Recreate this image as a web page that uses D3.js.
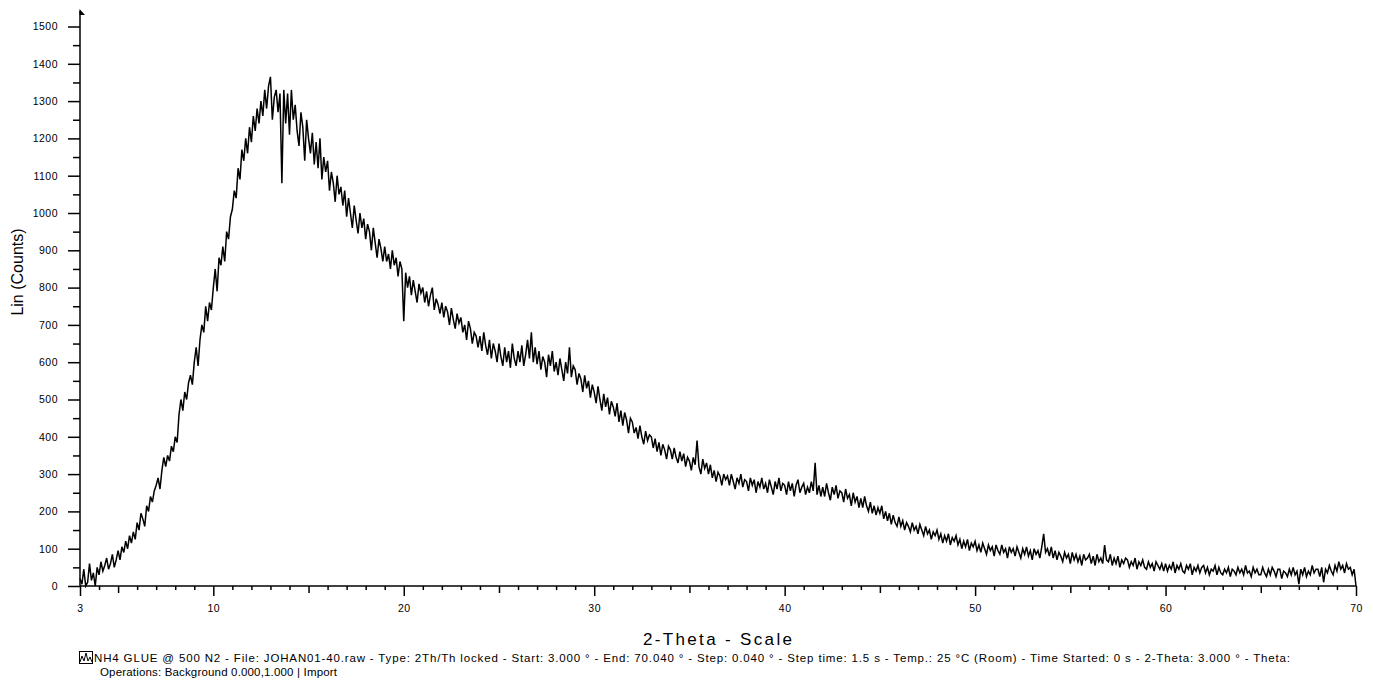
<!DOCTYPE html>
<html>
<head>
<meta charset="UTF-8">
<title>2-Theta scan</title>
<script src="https://cdnjs.cloudflare.com/ajax/libs/d3/7.8.5/d3.min.js"></script>
<style>
  body { margin: 0; background: #fff; }
  svg text { font-family: "Liberation Sans", Arial, sans-serif; fill: #000; }
</style>
</head>
<body>
<script>
// scan settings (every 0.1 deg)
var thetaStart = 3;
var thetaStep = 0.1;

// counts, one row per degree (3.0 ... 3.9, 4.0 ... 4.9, ...), last value at 70.0
var counts = [
  20, 5, 45, 0, 10, 60, 15, 35, 0, 50,
  30, 65, 40, 55, 75, 45, 60, 85, 50, 70,
  95, 70, 105, 90, 120, 100, 135, 115, 145, 125,
  170, 150, 195, 180, 160, 215, 200, 240, 225, 255,
  270, 290, 260, 310, 345, 320, 350, 335, 375, 360,
  400, 385, 460, 500, 470, 520, 500, 545, 565, 540,
  600, 640, 590, 660, 700, 680, 750, 710, 760, 740,
  800, 850, 790, 880, 860, 910, 870, 950, 930, 990,
  1010, 1060, 1040, 1120, 1090, 1170, 1140, 1200, 1160, 1230,
  1190, 1260, 1220, 1280, 1240, 1300, 1260, 1330, 1280, 1340,
  1365, 1250, 1310, 1330, 1270, 1320, 1080, 1330, 1240, 1320,
  1210, 1330, 1250, 1290, 1220, 1180, 1270, 1230, 1140, 1250,
  1200, 1160, 1215, 1130, 1190, 1120, 1200, 1090, 1150, 1110,
  1140, 1060, 1110, 1080, 1030, 1100, 1050, 1070, 1020, 1060,
  990, 1040, 1000, 960, 1020, 980, 945, 1000, 960, 985,
  930, 970, 950, 900, 960, 920, 880, 930, 905, 870,
  910, 870, 890, 850, 900, 860, 880, 830, 870, 850,
  710, 840, 800, 830, 780, 820, 790, 760, 810, 785,
  800, 760, 790, 750, 780, 800, 740, 770, 755, 730,
  760, 720, 750, 735, 700, 745, 715, 690, 730, 705,
  720, 680, 700, 660, 710, 690, 650, 680, 670, 640,
  670, 630, 680, 645, 620, 660, 610, 650, 630, 600,
  650, 615, 590, 640, 600, 630, 585, 650, 610, 590,
  630, 600, 645, 590, 620, 660, 610, 680, 600, 640,
  595, 630, 580, 615, 600, 560, 620, 590, 630, 575,
  600, 565, 610, 580, 550, 600, 570, 640, 560, 590,
  580, 540, 570, 555, 520, 565, 530, 550, 505, 540,
  520, 490, 535, 500, 470, 515, 480, 505, 460, 495,
  480, 455, 490, 440, 470, 430, 465, 445, 410, 450,
  440, 410, 425, 395, 430, 400, 380, 415, 390, 405,
  400, 370, 395, 360, 385, 350, 380, 365, 340, 375,
  365, 340, 370, 345, 330, 360, 335, 355, 320, 345,
  335, 310, 345, 325, 390, 320, 300, 340, 315, 330,
  300, 325, 290, 310, 280, 305, 295, 270, 300, 285,
  295, 270, 300, 280, 260, 290, 275, 300, 265, 285,
  280, 255, 290, 270, 285, 250, 280, 265, 290, 260,
  275, 250, 285, 265, 245, 280, 260, 290, 255, 275,
  270, 245, 280, 255, 275, 240, 270, 285, 250, 265,
  275, 245, 265, 250, 280, 255, 330, 245, 270, 240,
  265, 240, 275, 250, 230, 265, 245, 270, 235, 255,
  250, 225, 260, 235, 245, 215, 250, 225, 240, 210,
  235, 210, 240, 215, 200, 225, 195, 215, 190, 210,
  195, 215, 180, 200, 175, 195, 165, 190, 170, 160,
  185, 160, 175, 150, 170, 160, 145, 170, 150, 160,
  140, 165, 150, 135, 160, 140, 150, 125, 145, 135,
  150, 125, 140, 115, 135, 120, 140, 110, 130, 120,
  135, 110, 125, 100, 120, 105, 125, 95, 115, 105,
  120, 95, 110, 90, 115, 100, 85, 110, 95, 105,
  80, 110, 95, 85, 110, 90, 100, 75, 105, 90,
  100, 80, 105, 90, 75, 100, 85, 105, 80, 95,
  70, 100, 85, 95, 75, 105, 140, 90, 100, 80,
  105, 75, 95, 70, 90, 80, 65, 90, 75, 85,
  60, 90, 70, 85, 65, 80, 55, 85, 70, 75,
  85, 60, 80, 55, 85, 65, 75, 60, 110, 70,
  65, 85, 55, 75, 60, 80, 50, 70, 60, 75,
  70, 50, 65, 55, 75, 45, 65, 55, 70, 50,
  45, 65, 50, 60, 40, 65, 55, 45, 60, 40,
  60, 40, 55, 45, 65, 35, 55, 45, 60, 40,
  35, 55, 45, 60, 30, 50, 40, 55, 35, 50,
  55, 35, 50, 30, 45, 40, 55, 30, 50, 35,
  30, 45, 35, 50, 25, 45, 40, 30, 50, 35,
  45, 30, 55, 35, 40, 25, 50, 35, 45, 30,
  30, 50, 35, 25, 45, 30, 50, 40, 25, 45,
  45, 20, 40, 35, 25, 45, 30, 50, 30, 40,
  5, 45, 30, 50, 25, 40, 30, 55, 35, 45,
  45, 25, 50, 10, 45, 35, 55, 40, 30, 55,
  40, 65, 45, 55, 35, 60, 45, 50, 30, 45,
  0
];

var yMajorTicks = [0, 100, 200, 300, 400, 500, 600, 700, 800, 900, 1000, 1100, 1200, 1300, 1400, 1500];
var xLabelTicks = [3, 10, 20, 30, 40, 50, 60, 70];

var xTitle = "2-Theta - Scale";
var yTitle = "Lin (Counts)";
var footLine1 = "NH4 GLUE @ 500 N2 - File: JOHAN01-40.raw - Type: 2Th/Th locked - Start: 3.000 \u00b0 - End: 70.040 \u00b0 - Step: 0.040 \u00b0 - Step time: 1.5 s - Temp.: 25 \u00b0C (Room) - Time Started: 0 s - 2-Theta: 3.000 \u00b0 - Theta:";
var footLine2 = "Operations: Background 0.000,1.000 | Import";

var w = 1373;
var h = 691;

var data = counts.map(function(c, i) {
  return [thetaStart + i * thetaStep, c];
});

var svg = d3.select("body").append("svg")
  .attr("width", w)
  .attr("height", h);

var xScale = d3.scaleLinear().domain([3, 70]).range([80, 1356]);
var yScale = d3.scaleLinear().domain([0, 1500]).range([586, 26.5]);

//the pattern itself
var line = d3.line()
  .x(function(d) { return xScale(d[0]); })
  .y(function(d) { return yScale(d[1]); });

svg.append("path")
  .datum(data)
  .attr("fill", "none")
  .attr("stroke", "#000")
  .attr("stroke-width", 1.5)
  .attr("d", line);

//y axis: majors with labels, minors in between
var yAxis = d3.axisLeft(yScale)
  .tickValues(yMajorTicks)
  .tickSize(12)
  .tickPadding(10)
  .tickFormat(d3.format("d"));

svg.append("g")
  .attr("transform", "translate(80,0)")
  .call(yAxis);

svg.append("g")
  .attr("transform", "translate(80,0)")
  .call(d3.axisLeft(yScale).tickValues(d3.range(50, 1500, 100)).tickSize(7).tickFormat(""));

//x axis: every degree, longer at 5 and 10
svg.append("g")
  .attr("transform", "translate(0,586)")
  .call(d3.axisBottom(xScale).tickValues(d3.range(4, 70).filter(function(v) { return v % 5 != 0; })).tickSize(4).tickFormat(""));

svg.append("g")
  .attr("transform", "translate(0,586)")
  .call(d3.axisBottom(xScale).tickValues([5, 15, 25, 35, 45, 55, 65]).tickSize(7).tickFormat(""));

svg.append("g")
  .attr("transform", "translate(0,586)")
  .call(d3.axisBottom(xScale).tickValues(xLabelTicks).tickSize(10).tickPadding(9).tickFormat(d3.format("d")));

svg.selectAll(".domain").remove();
svg.selectAll(".tick line").attr("stroke", "#000").attr("stroke-width", 1.5);
svg.selectAll(".tick text").attr("font-size", "10.5px").attr("letter-spacing", "0.5px")
  .attr("font-family", "'Liberation Sans', Arial, sans-serif");

//axis lines
svg.append("line")
  .attr("x1", xScale(3)).attr("x2", xScale(70))
  .attr("y1", yScale(0)).attr("y2", yScale(0))
  .attr("stroke", "#000").attr("stroke-width", 1.5);

svg.append("line")
  .attr("x1", xScale(3)).attr("x2", xScale(3))
  .attr("y1", yScale(0)).attr("y2", 11)
  .attr("stroke", "#000").attr("stroke-width", 1.5);

//little arrow head on top of the y axis
svg.append("path")
  .attr("d", "M" + (xScale(3) - 0.5) + ",9 L" + (xScale(3) + 5) + ",15 L" + (xScale(3) - 0.5) + ",15 Z")
  .attr("fill", "#000");

//titles
svg.append("text")
  .attr("x", 643)
  .attr("y", 645)
  .attr("font-size", "17px")
  .attr("textLength", 149)
  .attr("lengthAdjust", "spacing")
  .text(xTitle);

svg.append("text")
  .attr("transform", "translate(23,272) rotate(-90)")
  .attr("text-anchor", "middle")
  .attr("font-size", "16px")
  .text(yTitle);

//legend icon
svg.append("rect")
  .attr("x", 79.5).attr("y", 651.5)
  .attr("width", 13).attr("height", 12)
  .attr("fill", "none").attr("stroke", "#000").attr("stroke-width", 1);

svg.append("path")
  .attr("d", "M80,662 L82,656 L84,661 L86,653 L88,661 L90,657 L92,662")
  .attr("fill", "none").attr("stroke", "#000").attr("stroke-width", 1);

svg.append("text")
  .attr("x", 94)
  .attr("y", 662)
  .attr("font-size", "11.5px")
  .attr("textLength", 1196)
  .attr("lengthAdjust", "spacing")
  .text(footLine1);

svg.append("text")
  .attr("x", 100)
  .attr("y", 676)
  .attr("font-size", "11.5px")
  .attr("textLength", 237)
  .attr("lengthAdjust", "spacing")
  .text(footLine2);
</script>
</body>
</html>
